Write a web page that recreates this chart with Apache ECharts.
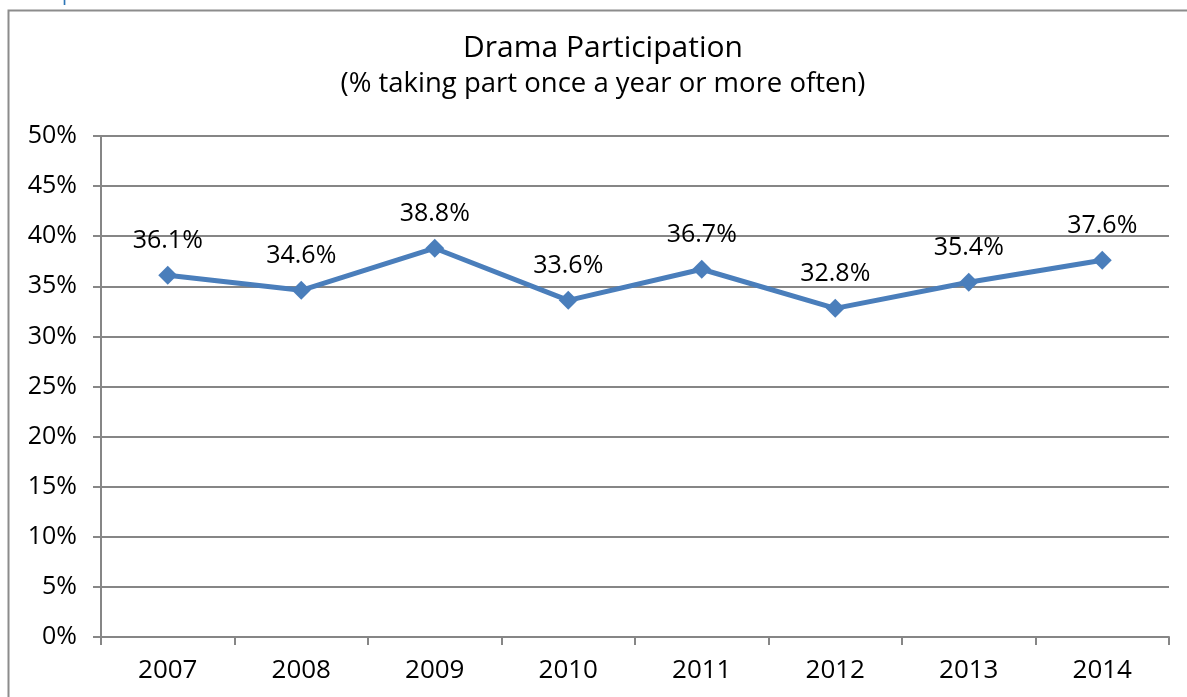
<!DOCTYPE html>
<html><head><meta charset="utf-8">
<script src="https://cdn.jsdelivr.net/npm/echarts@6/dist/echarts.min.js"></script>
<style>html,body{margin:0;padding:0;background:#fff}#c{width:1187px;height:697px}</style>
</head><body><div id="c"></div>
<script>
const categories = ['2007','2008','2009','2010','2011','2012','2013','2014'];
const values = [36.1, 34.6, 38.8, 33.6, 36.7, 32.8, 35.4, 37.6];
const yTicks = [0,5,10,15,20,25,30,35,40,45,50];
const titleText = 'Drama Participation';
const subtitleText = '(% taking part once a year or more often)';

const FONT = '"Open Sans", Lato, sans-serif';
const chart = echarts.init(document.getElementById('c'), null, {renderer:'canvas'});
chart.setOption({
  animation:false,
  backgroundColor:'#fff',
  graphic:[
    {type:'rect', shape:{x:8.5,y:10.5,width:1200,height:700}, style:{fill:'none',stroke:'#8c8c8c',lineWidth:2}},
    {type:'text', left:62, top:-16, style:{text:'p', fill:'#2e75b6', font:'20px '+FONT}},
    {type:'text', x:603, y:48, style:{text:titleText, align:'center', verticalAlign:'middle', fill:'#000', font:'30px '+FONT}},
    {type:'text', x:603, y:84, style:{text:subtitleText, align:'center', verticalAlign:'middle', fill:'#000', font:'27.5px '+FONT}}
  ],
  grid:{left:101, right:18, top:136, bottom:60},
  xAxis:{
    type:'category', data:categories, boundaryGap:true,
    axisLine:{lineStyle:{color:'#868686',width:2}},
    axisTick:{show:true, length:8, lineStyle:{color:'#868686',width:2}},
    axisLabel:{fontFamily:FONT, fontSize:26, color:'#000', margin:21}
  },
  yAxis:{
    type:'value', min:0, max:50, interval:5,
    axisLine:{show:true, lineStyle:{color:'#868686',width:2}},
    axisTick:{show:true, length:8, lineStyle:{color:'#868686',width:2}},
    splitLine:{lineStyle:{color:'#868686',width:2}},
    axisLabel:{fontFamily:FONT, fontSize:25, color:'#000', margin:24, formatter:v=>v+'%'}
  },
  series:[{
    type:'line', data:values, symbol:'diamond', symbolSize:19,
    lineStyle:{color:'#4a7ebb', width:5},
    itemStyle:{color:'#4a7ebb'},
    label:{show:true, position:'top', distance:12, fontFamily:FONT, fontSize:25, color:'#000', formatter:p=>p.value.toFixed(1)+'%'}
  }]
});
</script></body></html>
